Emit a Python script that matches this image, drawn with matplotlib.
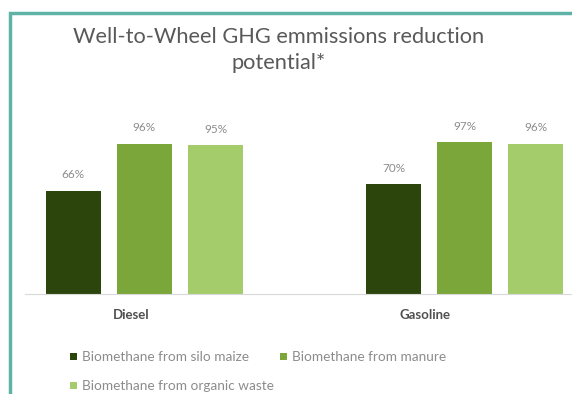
import matplotlib.pyplot as plt
import numpy as np
from matplotlib.patches import Rectangle

plt.rcParams['font.family'] = ['Lato', 'DejaVu Sans']

# Data
categories = ["Diesel", "Gasoline"]
series_names = ["Biomethane from silo maize", "Biomethane from manure",
                "Biomethane from organic waste"]
values = [
    [0.66, 0.70],  # silo maize
    [0.96, 0.97],  # manure
    [0.95, 0.96],  # organic waste
]
labels = [
    ["66%", "70%"],
    ["96%", "97%"],
    ["95%", "96%"],
]
colors = ["#2C450C", "#7AA63A", "#A5CC6B"]

W, H = 572, 394
fig = plt.figure(figsize=(W / 100, H / 100), dpi=100)

# axes placed in pixel terms: baseline at y=294, left at x=25
left_px, right_px = 25, 584
bottom_px, top_px = 294, 106
ax = fig.add_axes([left_px / W, 1 - bottom_px / H,
                   (right_px - left_px) / W, (bottom_px - top_px) / H])

x = np.arange(len(categories))
width = 0.172
step = 0.222
bars = []
for i, (vals, col) in enumerate(zip(values, colors)):
    b = ax.bar(x + (i - 1) * step, vals, width, color=col, label=series_names[i])
    bars.append(b)
    for xi, v, lab in zip(x + (i - 1) * step, vals, labels[i]):
        ax.text(xi, v + 0.065, lab, ha='center', va='bottom',
                fontsize=8.5, color='#8C8C8C')

ax.set_xlim(-0.373, 1.373)
ax.set_ylim(0, 1.2)
ax.set_yticks([])
# category labels sit a little left of the group centres in the original
ax.set_xticks(x + np.array([-0.04, -0.125]))
ax.set_xticklabels(categories, fontsize=9.5, color='#505050', fontweight='bold')
ax.tick_params(axis='x', length=0, pad=11)
for s in ['top', 'right', 'left']:
    ax.spines[s].set_visible(False)
ax.spines['bottom'].set_color('#D9D9D9')

fig.text(279 / W, 1 - 37 / H, "Well-to-Wheel GHG emmissions reduction",
         ha='center', va='center', fontsize=15.7, color='#595959')
fig.text(279 / W, 1 - 63 / H, "potential*",
         ha='center', va='center', fontsize=15.7, color='#595959')

# legend: row-major order
handles = [bars[0], bars[2], bars[1]]
names = [series_names[0], series_names[2], series_names[1]]
leg = fig.legend(handles, names, ncol=2, loc='upper left',
                 bbox_to_anchor=(58 / W, 1 - 339 / H), frameon=False,
                 fontsize=9.8, handlelength=0.5, handleheight=0.5,
                 handletextpad=0.4, columnspacing=0.4, labelspacing=1.25)
for t in leg.get_texts():
    t.set_color('#8C8C8C')

# teal frame around the chart
fig.patches.append(Rectangle((9.5 / W, -0.1), 1.2, 1 - 13 / H + 0.1,
                             transform=fig.transFigure, fill=False,
                             edgecolor='#5FB3A6', linewidth=2.5, clip_on=False))

fig.savefig("out.png", dpi=100)
